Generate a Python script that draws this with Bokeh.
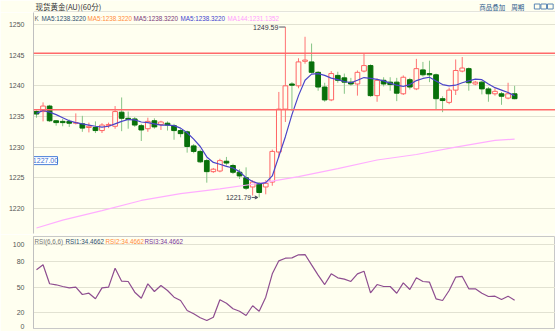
from bokeh.plotting import figure
from bokeh.layouts import column
from bokeh.models import Range1d, FixedTicker, Span, ColumnDataSource, Arrow, VeeHead
from bokeh.embed import file_html
from bokeh.resources import INLINE
from bokeh.core.properties import value

# ---------------- data ----------------
title_text = "现货黄金(AU)(60分)"
menu_items = ["商品叠加", "周期"]

idx = list(range(1, 75))
opens = [1235.8, 1235.8, 1236.7, 1234.3, 1234.2, 1234.2, 1233.9, 1233.8, 1233.2, 1233.2,
         1232.7, 1233.5, 1233.4, 1235.7, 1234.7, 1234.6, 1233.5, 1233.0, 1234.3, 1233.7,
         1233.9, 1233.5, 1232.7, 1232.5, 1230.2, 1229.3, 1227.8, 1226.0, 1226.1, 1227.7,
         1227.0, 1225.9, 1225.0, 1223.5, 1224.1, 1223.5, 1224.3, 1229.2, 1236.2, 1240.3,
         1240.0, 1244.0, 1243.9, 1242.2, 1239.8, 1237.7, 1241.7, 1241.3, 1240.6, 1240.3,
         1242.4, 1243.3, 1238.4, 1240.9, 1240.6, 1240.6, 1238.7, 1241.0, 1239.5, 1242.6,
         1242.0, 1241.8, 1237.9, 1237.3, 1239.3, 1242.4, 1242.8, 1240.3, 1240.6, 1239.5,
         1238.7, 1238.7, 1238.0, 1238.7]
highs = [1236.0, 1237.3, 1236.9, 1234.4, 1234.6, 1234.5, 1235.5, 1235.1, 1234.0, 1234.2,
         1233.9, 1234.0, 1236.7, 1238.1, 1235.8, 1234.9, 1233.8, 1234.8, 1234.7, 1234.3,
         1234.2, 1233.8, 1233.0, 1232.7, 1230.5, 1229.6, 1228.1, 1226.6, 1228.1, 1228.4,
         1227.3, 1226.4, 1226.7, 1224.6, 1224.3, 1224.6, 1229.6, 1239.0, 1249.59, 1240.6,
         1244.5, 1248.0, 1246.9, 1242.4, 1240.5, 1242.4, 1242.3, 1242.0, 1241.3, 1242.5,
         1245.3, 1243.5, 1241.2, 1241.4, 1241.4, 1241.3, 1241.7, 1241.3, 1244.4, 1243.9,
         1244.1, 1242.0, 1238.3, 1239.7, 1244.3, 1244.7, 1243.0, 1240.8, 1240.8, 1239.8,
         1239.6, 1239.0, 1240.5, 1240.0]
lows = [1234.8, 1234.2, 1234.1, 1233.5, 1233.4, 1233.3, 1233.7, 1232.5, 1232.4, 1232.3,
        1232.3, 1233.1, 1233.0, 1232.6, 1233.0, 1233.3, 1231.0, 1232.5, 1233.0, 1232.8,
        1232.7, 1231.2, 1231.6, 1229.1, 1229.0, 1227.4, 1224.2, 1225.8, 1225.9, 1227.0,
        1225.6, 1224.8, 1223.0, 1222.1, 1221.79, 1222.3, 1223.7, 1228.3, 1234.1, 1235.9,
        1239.6, 1243.6, 1242.0, 1239.2, 1237.4, 1237.5, 1240.5, 1238.7, 1240.0, 1238.4,
        1242.2, 1238.2, 1237.4, 1239.9, 1239.2, 1237.5, 1238.5, 1239.4, 1239.3, 1241.5,
        1240.6, 1236.2, 1235.7, 1237.0, 1238.5, 1242.2, 1239.2, 1240.1, 1238.6, 1237.4,
        1238.4, 1236.9, 1237.8, 1237.8]
closes = [1235.4, 1236.7, 1234.3, 1234.0, 1234.0, 1233.9, 1234.0, 1233.1, 1233.4, 1232.7,
          1233.6, 1233.7, 1235.8, 1234.7, 1234.5, 1233.6, 1232.8, 1234.2, 1233.3, 1234.1,
          1233.6, 1232.7, 1232.2, 1230.1, 1229.3, 1227.6, 1226.0, 1226.4, 1227.8, 1227.4,
          1225.9, 1225.3, 1223.3, 1224.3, 1222.6, 1224.1, 1229.3, 1236.2, 1240.0, 1240.1,
          1243.9, 1244.2, 1242.2, 1239.8, 1237.7, 1242.0, 1240.9, 1240.6, 1240.3, 1242.2,
          1243.3, 1238.4, 1240.9, 1240.3, 1240.2, 1238.8, 1241.4, 1239.8, 1242.8, 1241.8,
          1241.8, 1237.9, 1237.6, 1239.3, 1242.5, 1242.9, 1240.5, 1240.6, 1239.5, 1238.7,
          1239.1, 1238.3, 1238.7, 1237.9]
ma5 = [1235.5, 1236.0, 1235.7, 1235.3, 1234.8, 1234.3, 1234.0, 1233.8, 1233.6, 1233.4,
       1233.25, 1233.4, 1233.8, 1234.2, 1234.5, 1234.45, 1234.1, 1234.0, 1233.8, 1233.6,
       1233.6, 1233.5, 1233.1, 1232.35, 1231.3, 1230.1, 1228.4, 1227.5, 1227.2, 1226.85,
       1226.6, 1226.0, 1225.0, 1224.4, 1224.0, 1224.2, 1225.3, 1228.5, 1231.7, 1235.3,
       1238.4, 1240.9, 1241.9, 1242.0, 1241.7, 1241.25, 1241.0, 1240.7, 1240.5, 1240.9,
       1241.35, 1241.2, 1241.05, 1240.8, 1240.45, 1240.1, 1239.9, 1240.2, 1240.85, 1241.2,
       1241.4, 1240.8, 1240.2, 1240.0, 1240.1, 1240.5, 1240.8, 1241.1, 1241.0, 1240.3,
       1239.7, 1239.3, 1238.9, 1238.4]
ma144_idx = [1, 5, 11, 17, 23, 29, 35, 41, 47, 53, 59, 65, 71, 74]
ma144 = [1216.8, 1218.1, 1219.65, 1221.3, 1222.4, 1223.2, 1224.1, 1225.2, 1226.5,
         1227.9, 1228.8, 1230.0, 1231.1, 1231.3]
rsi = [70.2, 76.1, 53.8, 52.6, 50.6, 49.0, 49.8, 41.2, 42.7, 36.1,
       49.0, 49.8, 72.1, 56.8, 56.5, 43.9, 36.8, 53.8, 44.7, 51.8,
       45.9, 38.0, 34.1, 22.4, 18.5, 13.8, 10.6, 14.5, 34.9, 30.9,
       24.4, 21.5, 16.5, 27.9, 21.5, 38.0, 65.5, 80.8, 83.9, 84.3,
       87.9, 88.2, 76.0, 64.0, 52.9, 65.5, 60.8, 59.2, 56.5, 65.5,
       68.6, 43.1, 52.9, 50.6, 50.6, 42.7, 54.9, 47.1, 60.8, 56.5,
       55.7, 36.1, 34.1, 45.9, 61.6, 62.4, 47.9, 47.9, 42.7, 38.8,
       39.2, 35.3, 39.2, 34.47]
price_ticks = [1220, 1225, 1230, 1235, 1240, 1245, 1250]
rsi_ticks = [20, 50, 80, 100]
rsi_zero_text = "0"
resistance = 1245.3
support = 1236.1
cursor_price = 1227.8
cursor_text = "1227.00"
legend_texts = ["K", "MA5:1238.3220", "MA5:1238.3220", "MA5:1238.3220", "MA5:1238.3220", "MA144:1231.1352"]
rsi_texts = ["RSI(6,6,6)", "RSI1:34.4662", "RSI2:34.4662", "RSI3:34.4662"]

# ---------------- style ----------------
BG = "#FFFFF0"
FONT = "Liberation Sans"
CJK = "Noto Sans CJK SC"
W = 555
X0, X1 = 0.542, 80.24
Y0, Y1 = 1215.91, 1251.96
R0, R1 = 1.18, 109.41
SMALL = "6.3px"


def px2x(px):
    return X0 + (px - 33) * (X1 - X0) / 522.0


def py2y(py):
    return Y1 - (py - 12) * (Y1 - Y0) / 221.0


def py2r(py):
    return R1 - (py - 236) * (R1 - R0) / 92.0


xr = Range1d(X0, X1)

# ---------------- header ----------------
hdr = figure(width=W, height=12, x_range=Range1d(0, W), y_range=Range1d(12, 0),
             x_axis_location=None, y_axis_location=None, toolbar_location=None,
             output_backend="svg", min_border=0)
hdr.grid.visible = False
hdr.outline_line_color = None
hdr.background_fill_color = BG
hdr.border_fill_color = BG
hdr.text(x=[2], y=[6.2], text=[title_text], text_font=value(CJK), text_font_size="7.5px",
         text_color="#333333", text_baseline="middle")
hdr.text(x=[474, 508], y=[6.2, 6.2], text=menu_items, text_font=value(CJK),
         text_font_size="6.5px", text_color="#2A5A8A", text_baseline="middle")
hdr.rect(x=[535.5, 542.5, 549.5], y=[6, 6, 6], width=6, height=5, fill_color=None,
         line_color="#5A86B4", line_width=1)
hdr.segment(x0=[0], y0=[11.5], x1=[W], y1=[11.5], line_color="#C8C8C8", line_width=1)

# ---------------- main ----------------
main = figure(width=W, height=222, x_range=xr, y_range=Range1d(Y0, Y1),
              x_axis_location=None, toolbar_location=None, output_backend="svg",
              min_border_left=33, min_border_right=0, min_border_top=0, min_border_bottom=1)
main.background_fill_color = BG
main.border_fill_color = BG
main.outline_line_color = None
main.xgrid.visible = False
main.ygrid.ticker = FixedTicker(ticks=price_ticks)
main.ygrid.grid_line_color = "#E2E2D2"
ax = main.yaxis[0]
ax.ticker = FixedTicker(ticks=price_ticks)
ax.major_tick_line_color = None
ax.minor_tick_line_color = None
ax.major_label_text_font = FONT
ax.major_label_text_font_size = "7px"
ax.major_label_text_color = "#555555"
ax.major_label_standoff = 3
ax.axis_line_color = "#C0C0C0"

main.add_layout(Span(location=resistance, dimension="width", line_color="#FF6A6A", line_width=1.5))
main.add_layout(Span(location=support, dimension="width", line_color="#FF6A6A", line_width=1.5))

up = dict(i=[], o=[], h=[], l=[], c=[], top=[], bot=[])
dn = dict(i=[], o=[], h=[], l=[], c=[], top=[], bot=[])
for k in range(len(idx)):
    d = up if closes[k] >= opens[k] else dn
    d["i"].append(idx[k]); d["o"].append(opens[k]); d["h"].append(highs[k])
    d["l"].append(lows[k]); d["c"].append(closes[k])
    d["top"].append(max(opens[k], closes[k])); d["bot"].append(min(opens[k], closes[k]))
su = ColumnDataSource(up)
sd = ColumnDataSource(dn)
main.segment(x0="i", y0="h", x1="i", y1="l", source=su, line_color="#FF7474", line_width=1)
main.segment(x0="i", y0="h", x1="i", y1="l", source=sd, line_color="#86C486", line_width=1)
main.vbar(x="i", top="top", bottom="bot", width=0.72, source=su, fill_color=BG,
          line_color="#FF6464", line_width=1)
main.vbar(x="i", top="top", bottom="bot", width=0.72, source=sd, fill_color="#08700A",
          line_color="#08700A", line_width=1)

main.line(ma144_idx, ma144, line_color="#FFAEFF", line_width=1.2)
main.line(idx, ma5, line_color="#4B44C8", line_width=1.2)

# legend row
leg_px = [34, 41, 87, 133, 180, 227]
leg_col = ["#666666", "#2F4F6F", "#FF8C3C", "#7A3A7A", "#3F3FCF", "#FF9CFF"]
main.text(x=[px2x(p) for p in leg_px], y=[py2y(17.5)] * len(leg_px), text=legend_texts,
          text_color=leg_col, text_font=value(FONT), text_font_size=SMALL,
          text_baseline="middle")

# high / low annotations
ih = highs.index(max(highs))
il = lows.index(min(lows))
main.text(x=[idx[ih]], y=[highs[ih]], text=["%.2f" % highs[ih]], x_offset=-7,
          text_align="right", text_baseline="middle", text_font=value(FONT),
          text_font_size="7px", text_color="#333344")
main.segment(x0=[idx[ih] - 0.95], y0=[highs[ih]], x1=[idx[ih]], y1=[highs[ih]],
             line_color="#555566", line_width=1)
main.text(x=[idx[il]], y=[lows[il]], text=["%.2f" % lows[il]], x_offset=-8,
          text_align="right", text_baseline="middle", text_font=value(FONT),
          text_font_size="7px", text_color="#333344")
main.add_layout(Arrow(end=VeeHead(size=3, line_color="#555566", line_width=1),
                      x_start=idx[il] - 1.15, y_start=lows[il], x_end=idx[il] - 0.2,
                      y_end=lows[il], line_color="#555566", line_width=1))

# cursor price box
main.rect(x=[px2x(45)], y=[cursor_price], width=24, height=8, width_units="screen",
          height_units="screen", fill_color="#FFFFFF", line_color="#4A7FD8", line_width=1)
main.text(x=[px2x(45)], y=[cursor_price], text=[cursor_text], text_align="center",
          text_baseline="middle", text_font=value(FONT), text_font_size="7px",
          text_color="#3A6FD0")

# ---------------- RSI ----------------
rp = figure(width=W, height=97, x_range=xr, y_range=Range1d(R0, R1),
            x_axis_location=None, toolbar_location=None, output_backend="svg",
            min_border_left=33, min_border_right=0, min_border_top=2, min_border_bottom=3)
rp.background_fill_color = BG
rp.border_fill_color = BG
rp.outline_line_color = "#C8C8C8"
rp.xgrid.visible = False
rp.ygrid.ticker = FixedTicker(ticks=rsi_ticks)
rp.ygrid.grid_line_color = "#E2E2D2"
rax = rp.yaxis[0]
rax.ticker = FixedTicker(ticks=[4] + rsi_ticks)
rax.major_label_overrides = {4: rsi_zero_text}
rax.major_tick_line_color = None
rax.minor_tick_line_color = None
rax.major_label_text_font = FONT
rax.major_label_text_font_size = "7px"
rax.major_label_text_color = "#555555"
rax.major_label_standoff = 3
rax.axis_line_color = "#C0C0C0"

rp.line(idx, rsi, line_color="#8E4E90", line_width=1.2)
rsi_px = [34, 65, 105, 144]
rsi_col = ["#777777", "#2F4F6F", "#FF8C3C", "#7A3A9A"]
rp.text(x=[px2x(p) for p in rsi_px], y=[py2r(240.5)] * 4, text=rsi_texts,
        text_color=rsi_col, text_font=value(FONT), text_font_size=SMALL,
        text_baseline="middle")

layout = column(hdr, main, rp, spacing=0)
open("out.html", "w").write(file_html(layout, INLINE))
